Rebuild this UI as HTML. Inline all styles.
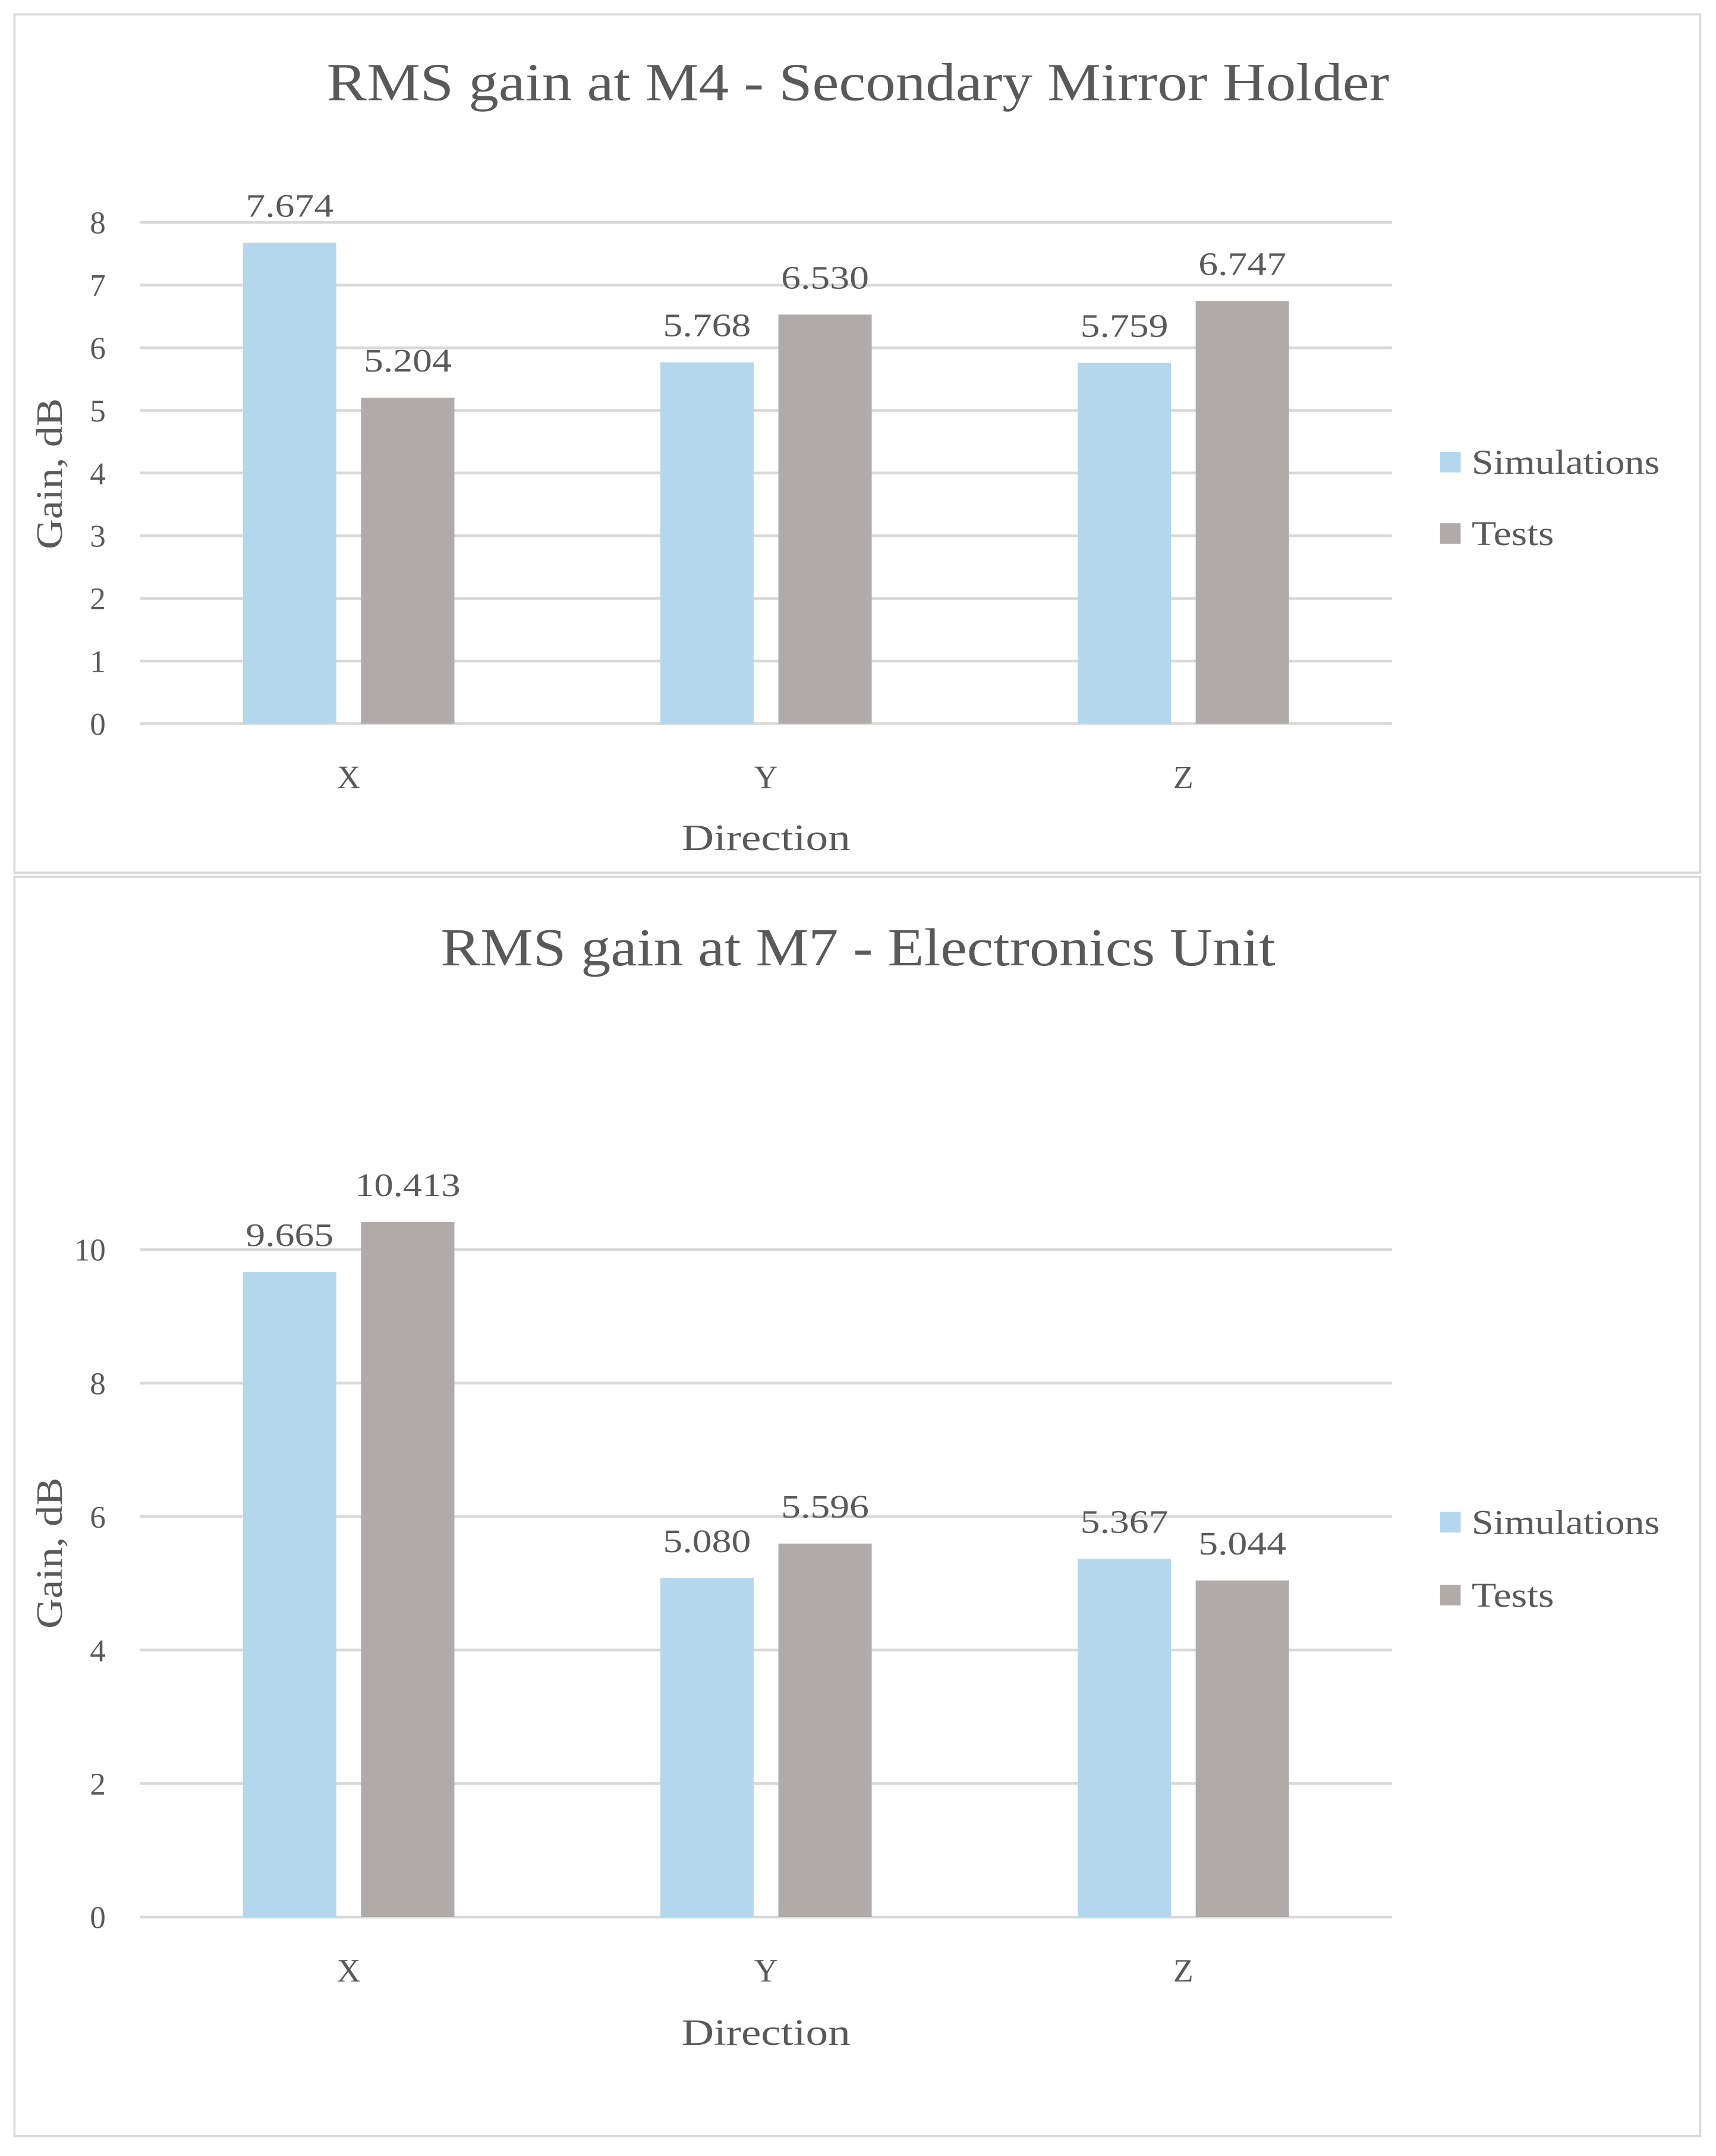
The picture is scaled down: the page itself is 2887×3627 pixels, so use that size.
<!DOCTYPE html>
<html><head><meta charset="utf-8"><style>
html,body{margin:0;padding:0;background:#fff}
svg{display:block}
text{font-family:"Liberation Serif",serif;fill:#595959}
</style></head><body>
<svg id="root" width="2887" height="3627" viewBox="0 0 1250 1570" preserveAspectRatio="none" xmlns="http://www.w3.org/2000/svg">
<rect x="0" y="0" width="1250" height="1570" fill="#fff"/>
</svg>
<script>
const categories = ["X","Y","Z"];
const chart1Sim = [7.674, 5.768, 5.759];
const chart1Tests = [5.204, 6.530, 6.747];
const chart1Ticks = [0,1,2,3,4,5,6,7,8];
const chart2Sim = [9.665, 5.080, 5.367];
const chart2Tests = [10.413, 5.596, 5.044];
const chart2Ticks = [0,2,4,6,8,10];
const seriesNames = ["Simulations","Tests"];
const colors = ["#b4d7ee","#b0aba8"];

const NS = "http://www.w3.org/2000/svg";
const root = document.getElementById('root');
function mk(tag, attrs, parent, txt){
  const e = document.createElementNS(NS, tag);
  for (const k in attrs) e.setAttribute(k, attrs[k]);
  if (txt !== undefined) e.textContent = txt;
  parent.appendChild(e);
  return e;
}

function drawChart(cfg){
  const g = mk('g', {}, root);
  
  
  const frame = mk('rect', {x:10.5, y:cfg.top+0.5, width:1228, height:cfg.h, fill:'#fff', stroke:'#d9d9d9', 'stroke-width':1.5}, g);
  
  
  const t = mk('text', {x:625, y:cfg.titleY, 'font-size':39, 'text-anchor':'middle', textLength:cfg.titleLen, lengthAdjust:'spacingAndGlyphs'}, g, cfg.title);
  
  
  const x0 = 102, x1 = 1014, y0 = cfg.y0, yTop = cfg.yTop, vmax = cfg.ticks[cfg.ticks.length-1];
  const yS = v => y0 - (v / vmax) * (y0 - yTop);
  const band = (x1 - x0) / categories.length;
  cfg.ticks.forEach(v => {
    const ln = mk('line', {x1:x0, x2:x1, y1:yS(v), y2:yS(v), stroke:'#d9d9d9', 'stroke-width':2}, g);
    
    
    const tl = mk('text', {x:77, y:yS(v)+8, 'font-size':23, 'text-anchor':'end'}, g, String(v));
    
    
  });
  const series = [cfg.sim, cfg.tests];
  categories.forEach((c, i) => {
    const cx = x0 + band * (i + 0.5);
    series.forEach((arr, s) => {
      const bx = s === 0 ? cx - 77 : cx + 9;
      const bar = mk('rect', {x:bx, y:yS(arr[i]), width:68, height:y0 - yS(arr[i]), fill:colors[s]}, g);
      
      
      const txt = arr[i].toFixed(3);
      const lb = mk('text', {x:bx+34, y:yS(arr[i]) - 19, 'font-size':24, 'text-anchor':'middle', textLength:txt.length*12.8, lengthAdjust:'spacingAndGlyphs'}, g, txt);
      
      
    });
    const xl = mk('text', {x:cx, y:y0 + 47, 'font-size':24, 'text-anchor':'middle'}, g, c);
    
    
  });
  const xt = mk('text', {x:558, y:cfg.dirY, 'font-size':27, 'text-anchor':'middle', textLength:123, lengthAdjust:'spacingAndGlyphs'}, g, 'Direction');
  
  
  const yt = mk('text', {x:0, y:0, 'font-size':27, 'text-anchor':'middle', textLength:110, lengthAdjust:'spacingAndGlyphs', transform:'translate(45,' + cfg.yTitleY + ') rotate(-90)'}, g, 'Gain, dB');
  
  
  const legLens = [137, 60];
  seriesNames.forEach((n, s) => {
    const ly = cfg.legY[s];
    const sq = mk('rect', {x:1049, y:ly-16, width:15, height:15, fill:colors[s]}, g);
    
    
    const lt = mk('text', {x:1072, y:ly, 'font-size':25, textLength:legLens[s], lengthAdjust:'spacingAndGlyphs'}, g, n);
    
    
  });
}

drawChart({name:'chart-m4', top:10, h:625, title:'RMS gain at M4 - Secondary Mirror Holder', titleLen:774, titleY:73,
  y0:527, yTop:162, ticks:chart1Ticks, sim:chart1Sim, tests:chart1Tests, dirY:619, yTitleY:345, legY:[345,397]});
drawChart({name:'chart-m7', top:638, h:917, title:'RMS gain at M7 - Electronics Unit', titleLen:608, titleY:703,
  y0:1396, yTop:910, ticks:chart2Ticks, sim:chart2Sim, tests:chart2Tests, dirY:1489, yTitleY:1131, legY:[1117,1170]});
</script>
</body></html>
